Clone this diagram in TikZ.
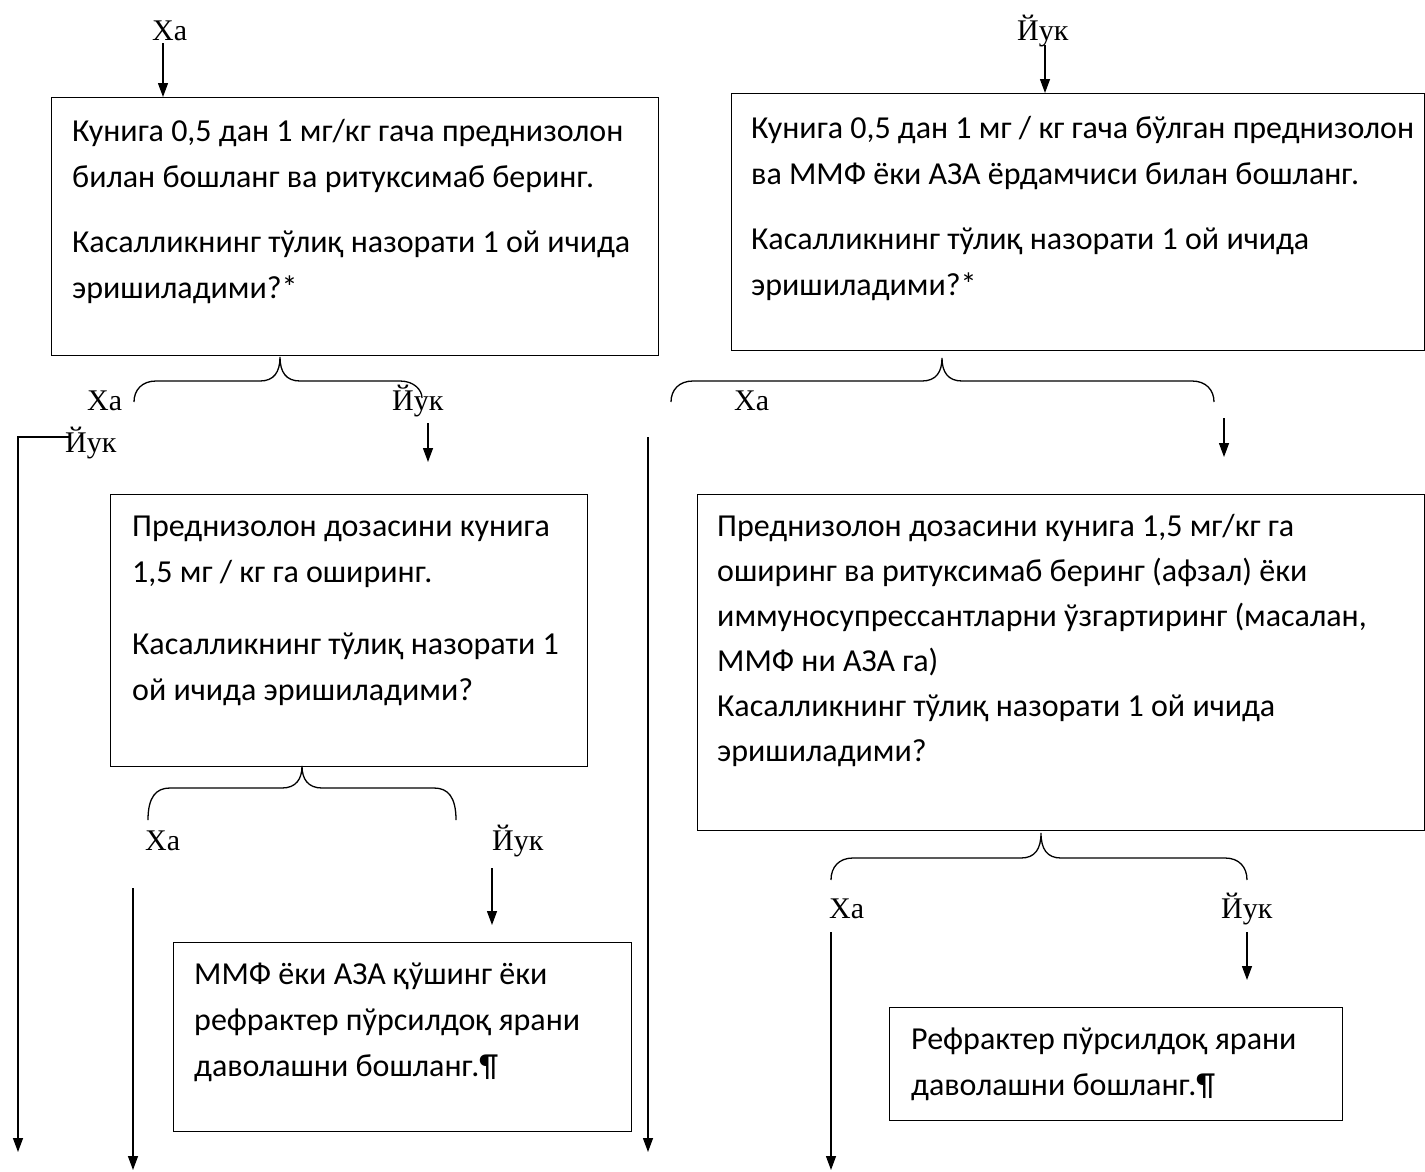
\documentclass[tikz,border=0pt]{standalone}
\usepackage{fontspec}
\setmainfont{Carlito}
\newfontfamily\labfont{Liberation Serif}
\usetikzlibrary{arrows.meta}
\newcommand\mybrace[7]{%
  \draw[brc] (#1,#2) .. controls (#1,#3+9) and (#1+8,#3) .. (#1+22,#3) -- (#4-20,#3)
    .. controls (#4-6,#3) and (#4,#3-9) .. (#4,#5)
    .. controls (#4,#3-9) and (#4+6,#3) .. (#4+20,#3) -- (#6-22,#3)
    .. controls (#6-8,#3) and (#6,#3+9) .. (#6,#7);}
\begin{document}
\begin{tikzpicture}[x=1pt,y=-1pt,
  boxst/.style={draw, line width=1.4pt, inner sep=0pt, anchor=north west},
  txt/.style={anchor=base west, inner sep=0pt, font=\fontsize{32}{46}\selectfont},
  txtb/.style={anchor=base west, inner sep=0pt, font=\fontsize{32}{45}\selectfont},
  lab/.style={anchor=base west, inner sep=0pt, font=\labfont\fontsize{30}{36}\selectfont},
  arr/.style={line width=1.3pt, -{Triangle[width=10pt,length=14pt]}},
  ln/.style={line width=1.3pt},
  brc/.style={line width=1.3pt}]
\fill[white] (0,0) rectangle (1425,1171);
\useasboundingbox (0,0) rectangle (1425,1171);

% boxes
\node[boxst, minimum width=607pt, minimum height=258pt] (box1) at (51,97) {};
\node[boxst, minimum width=693pt, minimum height=257pt] (box2) at (731,93) {};
\node[boxst, minimum width=477pt, minimum height=272pt] (box3) at (110,494) {};
\node[boxst, minimum width=458pt, minimum height=189pt] (box4) at (173,942) {};
\node[boxst, minimum width=727pt, minimum height=336pt] (box5) at (697,494) {};
\node[boxst, minimum width=453pt, minimum height=113pt] (box6) at (889,1007) {};

% texts
\node[txt] (t1) at (72,141) {\begin{tabular}[t]{@{}l@{}}Кунига 0,5 дан 1 мг/кг гача преднизолон\\ билан бошланг ва ритуксимаб беринг.\\[19pt] Касалликнинг тўлиқ назорати 1 ой ичида\\ эришиладими?*\end{tabular}};
\node[txt] (t2) at (751,138) {\begin{tabular}[t]{@{}l@{}}Кунига 0,5 дан 1 мг / кг гача бўлган преднизолон\\ ва ММФ ёки АЗА ёрдамчиси билан бошланг.\\[19pt] Касалликнинг тўлиқ назорати 1 ой ичида\\ эришиладими?*\end{tabular}};
\node[txt] (t3) at (132,536) {\begin{tabular}[t]{@{}l@{}}Преднизолон дозасини кунига\\ 1,5 мг / кг га оширинг.\\[26pt] Касалликнинг тўлиқ назорати 1\\ ой ичида эришиладими?\end{tabular}};
\node[txt] (t4) at (194,984) {\begin{tabular}[t]{@{}l@{}}ММФ ёки АЗА қўшинг ёки\\ рефрактер пўрсилдоқ ярани\\ даволашни бошланг.¶\end{tabular}};
\node[txtb] (t5) at (717,536) {\begin{tabular}[t]{@{}l@{}}Преднизолон дозасини кунига 1,5 мг/кг га\\ оширинг ва ритуксимаб беринг (афзал) ёки\\ иммуносупрессантларни ўзгартиринг (масалан,\\ ММФ ни АЗА га)\\ Касалликнинг тўлиқ назорати 1 ой ичида\\ эришиладими?\end{tabular}};
\node[txt] (t6) at (911,1049) {\begin{tabular}[t]{@{}l@{}}Рефрактер пўрсилдоқ ярани\\ даволашни бошланг.¶\end{tabular}};

% labels
\node[lab] (ha0) at (152,40) {Ха};
\node[lab] (yuk0) at (1017,40) {Йук};
\node[lab] (ha1) at (87,410) {Ха};
\node[lab] (yuk1) at (392,410) {Йук};
\node[lab] (yuk1b) at (65,452) {Йук};
\node[lab] (ha2) at (734,410) {Ха};
\node[lab] (ha3) at (145,850) {Ха};
\node[lab] (yuk3) at (492,850) {Йук};
\node[lab] (ha4) at (829,918) {Ха};
\node[lab] (yuk4) at (1221,918) {Йук};

% braces
\mybrace{134}{402}{381}{280}{357}{422}{398}
\mybrace{671}{402}{381}{942}{358}{1214}{402}
\mybrace{148}{820}{788}{302}{766}{456}{820}
\mybrace{831}{880}{858}{1041}{833}{1247}{880}

% connector coordinates
\coordinate (s0) at (163,43);
\coordinate (e0) at (163,97);
\coordinate (s0b) at (1045,45);
\coordinate (e0b) at (1045,93);
\coordinate (sy1) at (69,437);
\coordinate (cy1) at (18,437);
\coordinate (ey1) at (18,1152);
\coordinate (s3) at (428,423);
\coordinate (e3) at (428,462);
\coordinate (sl2) at (648,437);
\coordinate (el2) at (648,1152);
\coordinate (s4) at (1224,418);
\coordinate (e4) at (1224,457);
\coordinate (s5) at (492,868);
\coordinate (e5) at (492,925);
\coordinate (sl3) at (133,888);
\coordinate (el3) at (133,1170);
\coordinate (sl4) at (831,932);
\coordinate (el4) at (831,1170);
\coordinate (s6) at (1247,932);
\coordinate (e6) at (1247,980);

% connectors
\draw[arr] (s0) -- (e0);
\draw[arr] (s0b) -- (e0b);
\draw[arr] (sy1) -- (cy1) -- (ey1);
\draw[arr] (s3) -- (e3);
\draw[arr] (sl2) -- (el2);
\draw[arr] (s4) -- (e4);
\draw[arr] (s5) -- (e5);
\draw[arr] (sl3) -- (el3);
\draw[arr] (sl4) -- (el4);
\draw[arr] (s6) -- (e6);
\end{tikzpicture}
\end{document}
